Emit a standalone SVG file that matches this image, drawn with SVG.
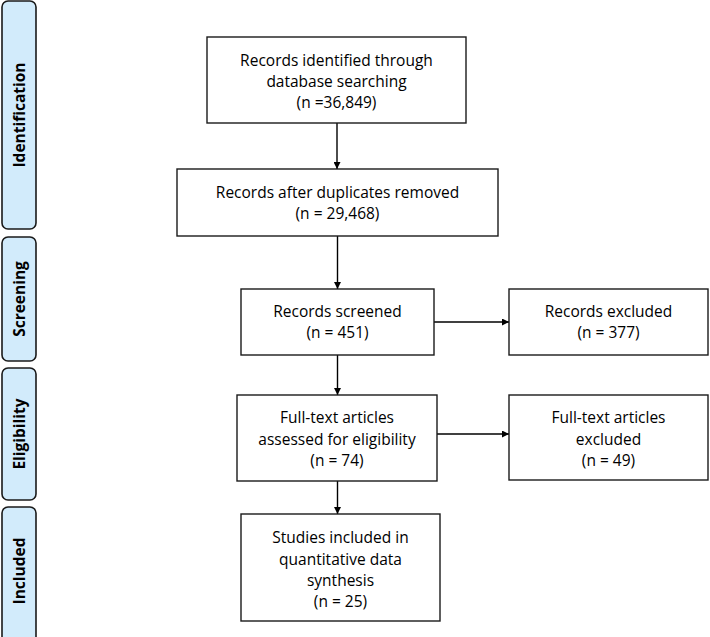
<svg xmlns="http://www.w3.org/2000/svg" width="710" height="637" viewBox="0 0 710 637">
<style>
.bg{fill:#ffffff}
.side rect{fill:#d2ebfb;stroke:#1a1a1a;stroke-width:1.6}
.side text{font-family:"Open Sans","Liberation Sans",sans-serif;font-weight:bold;font-size:15.5px;fill:#000;text-anchor:middle}
.node rect{fill:#ffffff;stroke:#1a1a1a;stroke-width:1.4}
.node text{font-family:"Open Sans","Liberation Sans",sans-serif;font-size:15.5px;fill:#000;text-anchor:middle}
.conn line{stroke:#000;stroke-width:1.4}
</style>
<defs>
<marker id="ah" viewBox="0 0 10 10" refX="10" refY="5" markerWidth="7" markerHeight="7" markerUnits="userSpaceOnUse" orient="auto">
<path d="M0,0 L10,5 L0,10 z" fill="#000"/>
</marker>
</defs>
<rect class="bg" x="0" y="0" width="710" height="637"/>
<g class="side" id="lane-identification"><rect x="2" y="1" width="34" height="228" rx="6"/><text transform="translate(25,115) rotate(-90)">Identification</text></g>
<g class="side" id="lane-screening"><rect x="2" y="237" width="34" height="124" rx="6"/><text transform="translate(25,299) rotate(-90)">Screening</text></g>
<g class="side" id="lane-eligibility"><rect x="2" y="368" width="34" height="132" rx="6"/><text transform="translate(25,434) rotate(-90)">Eligibility</text></g>
<g class="side" id="lane-included"><rect x="2" y="507" width="34" height="140" rx="6"/><text transform="translate(25,571) rotate(-90)">Included</text></g>

<g class="conn" id="connectors">
<line x1="337" y1="123" x2="337" y2="169" marker-end="url(#ah)"/>
<line x1="337.5" y1="236" x2="337.5" y2="289" marker-end="url(#ah)"/>
<line x1="434" y1="322" x2="509" y2="322" marker-end="url(#ah)"/>
<line x1="337.5" y1="355" x2="337.5" y2="395" marker-end="url(#ah)"/>
<line x1="437" y1="434" x2="509" y2="434" marker-end="url(#ah)"/>
<line x1="337.5" y1="481" x2="337.5" y2="514" marker-end="url(#ah)"/>
</g>

<g class="node" id="n-identified"><rect x="207" y="37" width="259" height="86"/>
<text x="336.5" y="66">Records identified through</text>
<text x="336.5" y="87">database searching</text>
<text x="336.5" y="108">(n =36,849)</text></g>

<g class="node" id="n-duplicates"><rect x="177" y="169" width="321" height="67"/>
<text x="337.5" y="198">Records after duplicates removed</text>
<text x="337.5" y="219">(n = 29,468)</text></g>

<g class="node" id="n-screened"><rect x="241" y="289" width="193" height="66"/>
<text x="337.5" y="317">Records screened</text>
<text x="337.5" y="338">(n = 451)</text></g>

<g class="node" id="n-excluded"><rect x="509" y="289" width="199" height="66"/>
<text x="608.5" y="317">Records excluded</text>
<text x="608.5" y="338">(n = 377)</text></g>

<g class="node" id="n-fulltext"><rect x="237" y="395" width="200" height="86"/>
<text x="337" y="423">Full-text articles</text>
<text x="337" y="444.5">assessed for eligibility</text>
<text x="337" y="466">(n = 74)</text></g>

<g class="node" id="n-ftexcluded"><rect x="509" y="395" width="199" height="85"/>
<text x="608.5" y="423">Full-text articles</text>
<text x="608.5" y="444.5">excluded</text>
<text x="608.5" y="466">(n = 49)</text></g>

<g class="node" id="n-included"><rect x="241" y="514" width="199" height="107"/>
<text x="340.5" y="543">Studies included in</text>
<text x="340.5" y="564.5">quantitative data</text>
<text x="340.5" y="586">synthesis</text>
<text x="340.5" y="607">(n = 25)</text></g>
</svg>
